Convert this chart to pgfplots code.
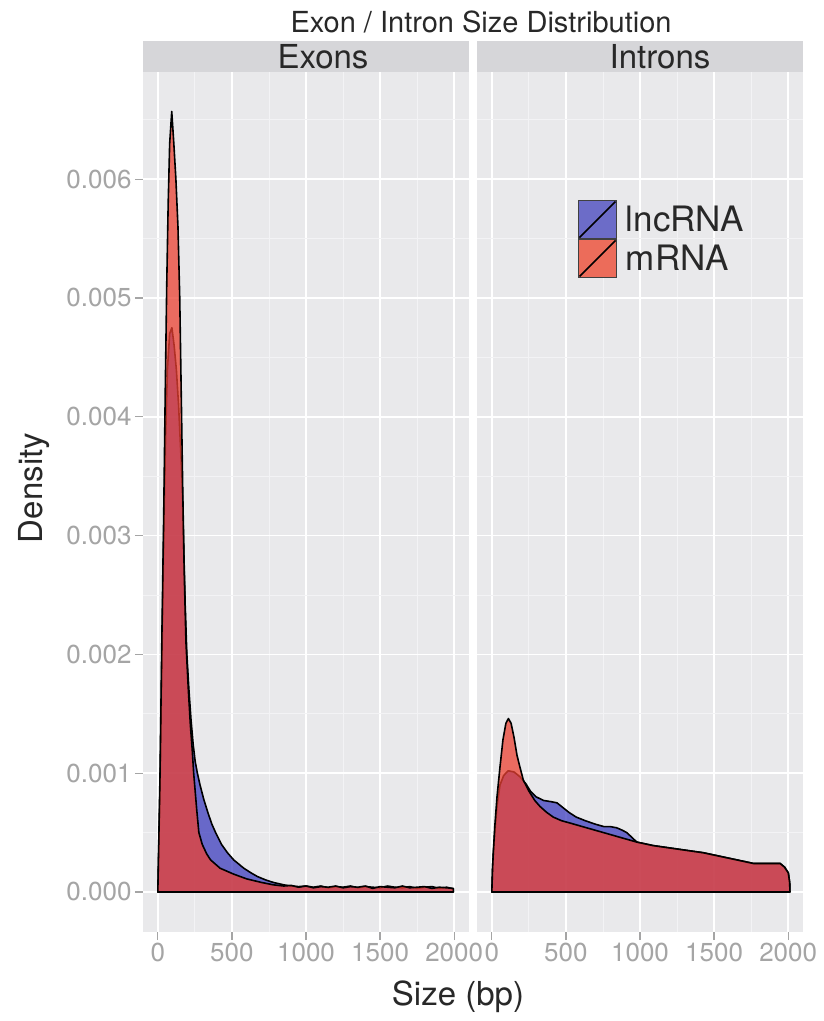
\documentclass[border=0pt]{standalone}
\usepackage{fontspec}
\setmainfont{TeX Gyre Heros}
\usepackage{pgfplots}
\pgfplotsset{compat=1.18}
\definecolor{panelbg}{RGB}{233,233,235}
\definecolor{stripbg}{RGB}{214,214,217}
\definecolor{minorgrid}{RGB}{243,243,245}
\definecolor{tickgray}{RGB}{165,165,165}
\definecolor{lncfill}{RGB}{62,62,190}
\definecolor{mrnafill}{RGB}{235,65,50}
\definecolor{lnckey}{RGB}{108,108,200}
\definecolor{mrnakey}{RGB}{236,108,90}
\definecolor{txt}{RGB}{40,40,40}
\pgfplotsset{
  facet/.style={
    scale only axis, width=326pt, height=860pt, anchor=south west,
    xmin=-100, xmax=2100, ymin=-0.000337, ymax=0.006902,
    xtick={0,500,1000,1500,2000}, xticklabels={0,500,1000,1500,2000},
    ytick={0,0.001,0.002,0.003,0.004,0.005,0.006},
    minor xtick={250,750,1250,1750},
    minor ytick={0.0005,0.0015,0.0025,0.0035,0.0045,0.0055,0.0065},
    grid=both,
    major grid style={white, line width=1.5pt},
    minor grid style={minorgrid, line width=0.8pt},
    axis background/.style={fill=panelbg},
    axis line style={draw=none},
    tick align=outside, major tick length=8pt, minor tick length=0pt,
    tick pos=left,
    tick style={tickgray, line width=1.2pt},
    ticklabel style={font=\fontsize{26}{28}\selectfont, text=tickgray},
    scaled y ticks=false, scaled x ticks=false,
    clip=true,
  },
  lnc/.style={fill=lncfill, fill opacity=0.75, draw=black, line width=1.6pt, line join=round, forget plot},
  mrna/.style={fill=mrnafill, fill opacity=0.75, draw=black, line width=1.6pt, line join=round, forget plot},
}
\begin{document}
\begin{tikzpicture}[x=1pt,y=1pt]
\useasboundingbox (0,0) rectangle (823,1021);
% ---------------- Exons ----------------
\begin{axis}[facet, at={(143pt,89pt)},
  yticklabels={0.000,0.001,0.002,0.003,0.004,0.005,0.006}]
\addplot[lnc] coordinates {
(0,0) (15,0.0009) (28,0.0020) (40,0.0030) (52,0.0038) (65,0.0044) (80,0.0047) (95,0.00475)
(110,0.0046) (125,0.0044) (140,0.0041) (155,0.0037) (165,0.0034) (175,0.0029) (185,0.0024)
(196,0.0020) (210,0.0017) (224,0.00145) (238,0.00125) (252,0.0011) (267,0.0010) (285,0.0009)
(310,0.00078) (340,0.00066) (365,0.00057) (390,0.0005) (430,0.0004) (470,0.00033) (512,0.00027)
(580,0.0002) (630,0.00016) (672,0.00013) (730,0.0001) (780,0.00008) (850,0.00006) (900,0.00005)
(950,0.000045) (1000,0.00005) (1050,0.00004) (1100,0.00005) (1150,0.000035) (1200,0.000045)
(1250,0.00004) (1300,0.00005) (1350,0.000035) (1400,0.000045) (1450,0.00004) (1500,0.000035)
(1550,0.00005) (1600,0.00004) (1650,0.000035) (1700,0.000045) (1750,0.00003) (1800,0.00004)
(1850,0.000045) (1900,0.00003) (1950,0.00004) (1995,0.000025) (1995,0)
} -- cycle;
\addplot[mrna] coordinates {
(0,0) (15,0.0010) (28,0.0022) (40,0.0032) (50,0.0042) (60,0.0051) (70,0.0058) (80,0.0063)
(94,0.00657) (108,0.0063) (122,0.0060) (136,0.0056) (148,0.0050) (158,0.0042) (168,0.0034)
(178,0.0027) (190,0.0021) (206,0.0017) (220,0.0014) (232,0.0012) (242,0.0010) (252,0.00085)
(262,0.0007) (277,0.0005) (300,0.0004) (330,0.00032) (356,0.00027) (420,0.0002) (512,0.00015)
(600,0.00011) (700,0.00008) (780,0.00006) (850,0.00005) (900,0.000055) (950,0.00004)
(1000,0.00005) (1050,0.000035) (1100,0.000045) (1150,0.00004) (1200,0.00005) (1250,0.000035)
(1300,0.000045) (1350,0.00004) (1400,0.00005) (1450,0.00003) (1500,0.000045) (1550,0.00004)
(1600,0.000035) (1650,0.00005) (1700,0.000035) (1750,0.00004) (1800,0.000045) (1850,0.00003)
(1900,0.00004) (1950,0.000035) (1995,0.00003) (1995,0)
} -- cycle;
\end{axis}
% ---------------- Introns ----------------
\begin{axis}[facet, at={(477pt,89pt)},
  yticklabels={}, ytick style={draw=none},
  legend cell align=left,
  legend style={at={(0.31,0.851)}, anchor=north west, draw=none, fill=none,
    inner sep=0pt, outer sep=0pt, row sep=0pt, column sep=9pt,
    nodes={inner sep=0pt, text=txt},
    font=\fontsize{35}{37}\selectfont}]
\addplot[lnc] coordinates {
(0,0) (5,0.0002) (10,0.00032) (20,0.0005) (35,0.00072) (55,0.0009) (80,0.00098) (110,0.00102)
(150,0.00101) (190,0.00097) (230,0.00091) (260,0.00085) (300,0.0008) (350,0.00077) (400,0.00076)
(440,0.00075) (480,0.00071) (520,0.00067) (570,0.00063) (630,0.0006) (700,0.00057) (757,0.00055)
(800,0.00055) (843,0.00054) (880,0.00052) (910,0.0005) (945,0.00046) (978,0.00042) (1090,0.00039)
(1203,0.00037) (1315,0.00035) (1428,0.00033) (1540,0.0003) (1653,0.00027) (1765,0.00024)
(1860,0.00024) (1945,0.00024) (1975,0.00021) (2001,0.00016) (2010,0.00008) (2012,0)
} -- cycle;
\addplot[mrna] coordinates {
(0,0) (5,0.0002) (10,0.00033) (20,0.00055) (35,0.0008) (55,0.00105) (75,0.00128) (95,0.00142)
(112,0.00146) (130,0.00142) (150,0.0013) (170,0.00115) (190,0.00105) (213,0.00094) (250,0.00085)
(290,0.00077) (325,0.00072) (370,0.00067) (415,0.00063) (470,0.0006) (528,0.00058) (640,0.00054)
(753,0.0005) (865,0.00046) (978,0.00042) (1090,0.00039) (1203,0.00037) (1315,0.00035)
(1428,0.00033) (1540,0.0003) (1653,0.00027) (1765,0.00024) (1860,0.00024) (1945,0.00024)
(1975,0.00021) (2001,0.00016) (2010,0.00008) (2012,0)
} -- cycle;
\addlegendimage{legend image code/.code={
  \fill[lnckey] (0pt,-19pt) rectangle (38pt,19pt);
  \draw[black!75, line width=0.9pt] (0pt,-19pt) rectangle (38pt,19pt);
  \draw[black, line width=1.6pt] (1pt,-18pt) -- (37pt,18pt);}}
\addlegendentry{lncRNA}
\addlegendimage{legend image code/.code={
  \fill[mrnakey] (0pt,-19pt) rectangle (38pt,19pt);
  \draw[black!75, line width=0.9pt] (0pt,-19pt) rectangle (38pt,19pt);
  \draw[black, line width=1.6pt] (1pt,-18pt) -- (37pt,18pt);}}
\addlegendentry{mRNA}
\end{axis}
% ---------------- strips, titles, labels ----------------
\fill[stripbg] (143,949) rectangle (469,980);
\fill[stripbg] (477,949) rectangle (803,980);
\node[anchor=base, font=\fontsize{33}{35}\selectfont, text=txt, inner sep=0pt] at (323,952) {Exons};
\node[anchor=base, font=\fontsize{33}{35}\selectfont, text=txt, inner sep=0pt] at (660,952) {Introns};
\node[anchor=base, font=\fontsize{29}{31}\selectfont, text=txt, inner sep=0pt] at (481,988) {Exon / Intron Size Distribution};
\node[anchor=base, font=\fontsize{33}{35}\selectfont, text=txt, inner sep=0pt] at (458,16) {Size (bp)};
\node[anchor=base, rotate=90, font=\fontsize{33}{35}\selectfont, text=txt, inner sep=0pt] at (42,533) {Density};
\end{tikzpicture}
\end{document}
